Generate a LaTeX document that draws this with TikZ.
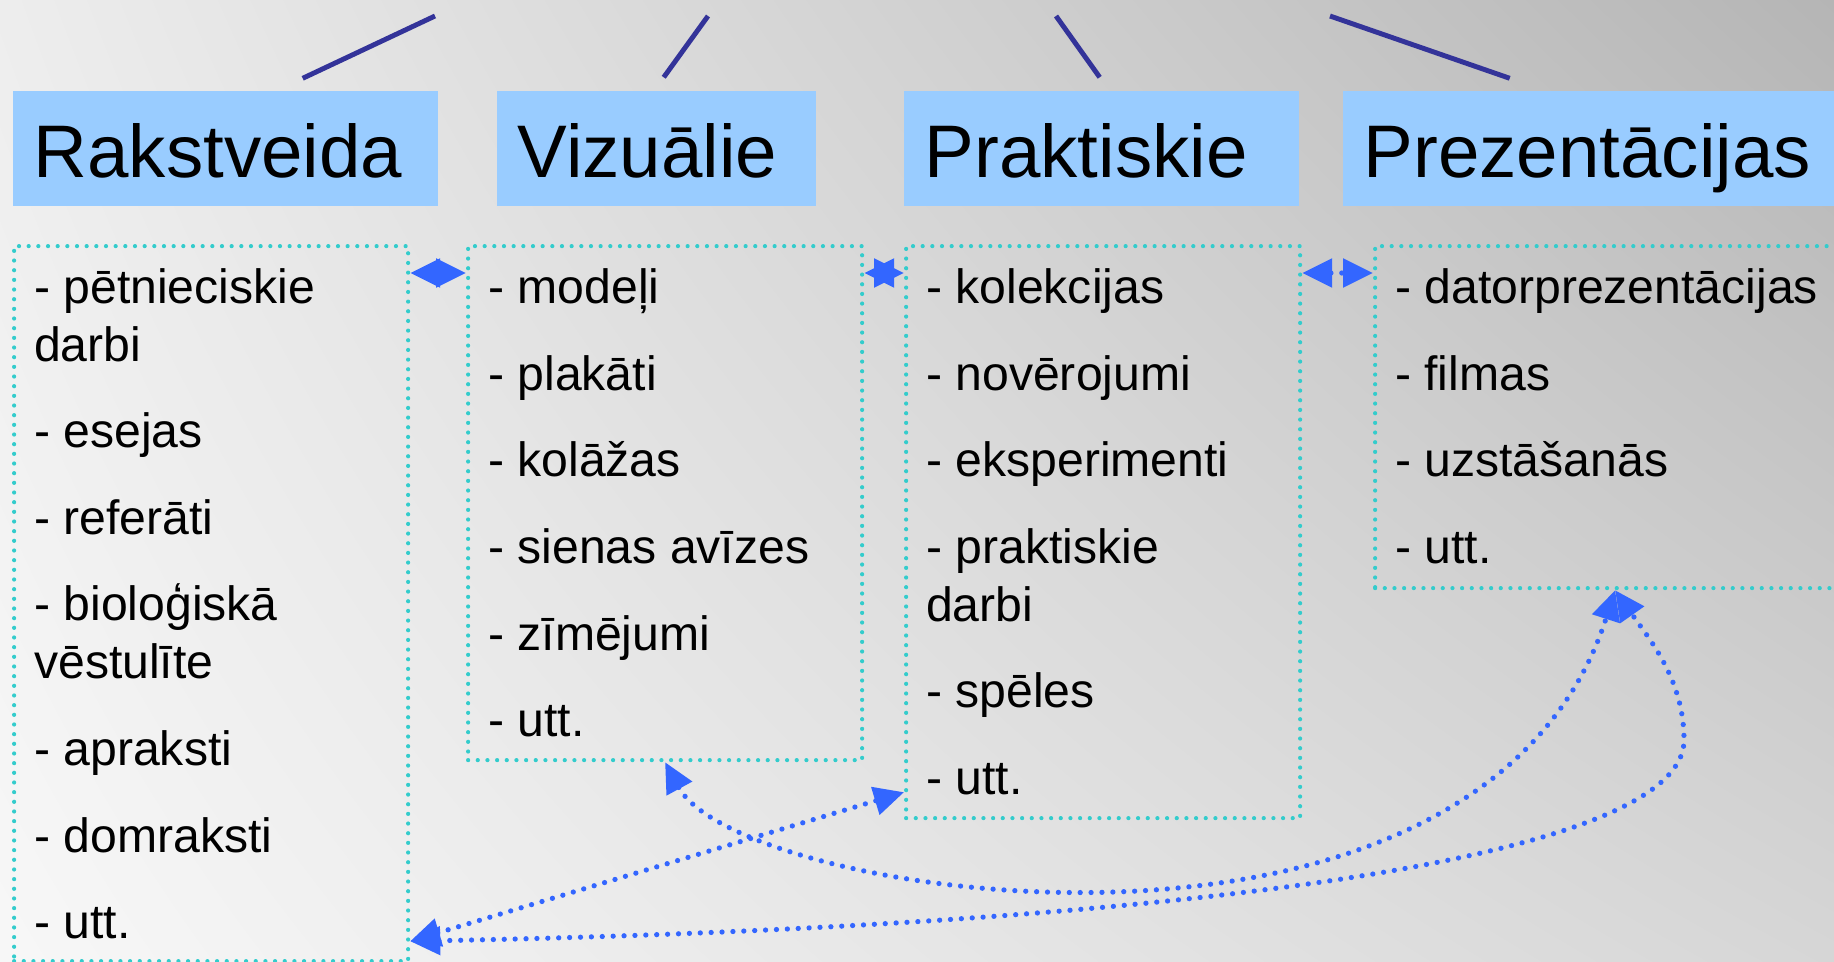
\documentclass[tikz,border=0pt]{standalone}
\usepackage{fontspec}
\setmainfont{Liberation Sans}
\usetikzlibrary{arrows.meta, shadings}

\definecolor{headblue}{HTML}{99CCFF}
\definecolor{boxteal}{HTML}{33CCCC}
\definecolor{linkblue}{HTML}{3366FF}
\definecolor{stemblue}{HTML}{333399}

\begin{document}
\begin{tikzpicture}[
    head/.style={rectangle, fill=headblue, anchor=west, inner xsep=0.21cm, inner ysep=0pt,
        minimum height=1.15cm, text height=0.57cm, text depth=0cm, align=left,
        font=\fontsize{21.2}{25}\selectfont},
    listbox/.style={rectangle, draw=boxteal, line width=1.2pt, line cap=round,
        dash pattern=on 0pt off 2.75pt, anchor=north west, minimum width=3.94cm, inner sep=0pt},
    item/.style={anchor=base west, inner sep=0pt, font=\fontsize{13.7}{16}\selectfont},
    link/.style={color=linkblue, line width=1.5pt, line cap=round, dash pattern=on 0pt off 3.1pt,
        arrows={Triangle[length=3mm,width=2.8mm]-Triangle[length=3mm,width=2.8mm]}},
    stem/.style={draw=stemblue, line width=1.4pt}]

    % 背景
    \useasboundingbox (0,-9.61) rectangle (18.34,0);
    \shade[upper left=black!7, upper right=black!29, lower left=black!3, lower right=black!16]
        (0,-9.61) rectangle (18.34,0);

    % 四个标题
    \node[head, text width=3.83cm] (rak) at (0.12,-1.485) {Rakstveida};
    \node[head, text width=2.77cm] (viz) at (4.96,-1.485) {Vizuālie};
    \node[head, text width=3.53cm] (prak) at (9.03,-1.485) {Praktiskie};
    \node[head, text width=4.58cm] (prez) at (13.42,-1.485) {Prezentācijas};

    % 上方连线
    \coordinate (s1) at (4.35,-0.16);
    \coordinate (s2) at (7.08,-0.16);
    \coordinate (s3) at (10.56,-0.16);
    \coordinate (s4) at (13.30,-0.16);
    \draw[stem] (s1) -- ([shift={(0.775,0.12)}]rak.north);
    \draw[stem] (s2) -- ([shift={(0.075,0.13)}]viz.north);
    \draw[stem] (s3) -- ([shift={(-0.015,0.13)}]prak.north);
    \draw[stem] (s4) -- ([shift={(-0.83,0.12)}]prez.north);

    % 虚线框
    \node[listbox, minimum height=7.15cm] (lrak) at (0.12,-2.44) {};
    \node[listbox, minimum height=5.14cm] (lviz) at (4.66,-2.44) {};
    \node[listbox, minimum height=5.72cm] (lprak) at (9.04,-2.44) {};
    \node[listbox, minimum width=4.8cm, minimum height=3.42cm] (lpre) at (13.73,-2.44) {};

    % 各列条目
    \foreach \y/\t [count=\i] in {3.03/- pētnieciskie, 3.61/darbi, 4.47/- esejas, 5.34/- referāti,
        6.20/- bioloģiskā, 6.78/vēstulīte, 7.65/- apraksti, 8.52/- domraksti, 9.38/- utt.} {
        \node[item] (r\i) at (0.335,-\y) {\t};
    }
    \foreach \y/\t [count=\i] in {3.03/- modeļi, 3.90/- plakāti, 4.76/- kolāžas,
        5.63/- sienas avīzes, 6.50/- zīmējumi, 7.36/- utt.} {
        \node[item] (v\i) at (4.875,-\y) {\t};
    }
    \foreach \y/\t [count=\i] in {3.03/- kolekcijas, 3.90/- novērojumi, 4.76/- eksperimenti,
        5.63/- praktiskie, 6.21/darbi, 7.07/- spēles, 7.94/- utt.} {
        \node[item] (p\i) at (9.255,-\y) {\t};
    }
    \foreach \y/\t [count=\i] in {3.03/- datorprezentācijas, 3.90/- filmas, 4.76/- uzstāšanās,
        5.63/- utt.} {
        \node[item] (z\i) at (13.945,-\y) {\t};
    }

    % 框之间的箭头
    \draw[link] ([yshift=-0.29cm]lrak.north east) -- ([yshift=-0.29cm]lviz.north west);
    \draw[link] ([yshift=-0.29cm]lviz.north east) -- ([yshift=-0.29cm]lprak.north west);
    \draw[link] ([yshift=-0.29cm]lprak.north east) -- ([yshift=-0.29cm]lpre.north west);
    \draw[link] ([yshift=0.22cm]lrak.south east) -- ([yshift=0.28cm]lprak.south west);
    \draw[link] (lviz.south) .. controls (7.40,-9.00) and (14.80,-10.10) .. (lpre.south);
    \draw[link] ([yshift=0.22cm]lrak.south east) .. controls (10.00,-9.30) and (16.84,-8.80) .. (16.84,-7.40)
        .. controls (16.84,-6.80) and (16.50,-6.40) .. (lpre.south);
\end{tikzpicture}
\end{document}
